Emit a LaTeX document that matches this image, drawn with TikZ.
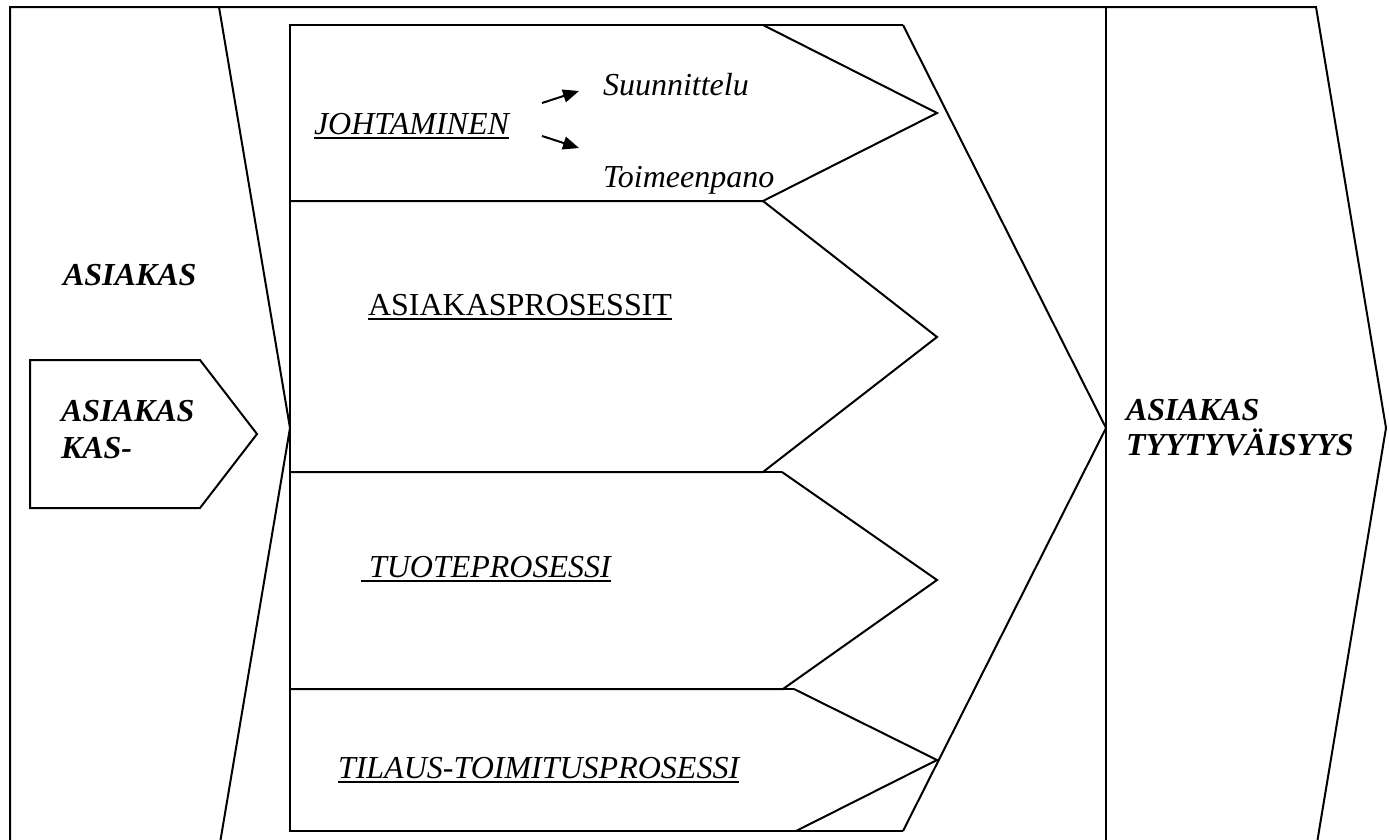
\documentclass[tikz,border=0pt]{standalone}
\usepackage{fontspec}
\setmainfont{Liberation Serif}
\usetikzlibrary{arrows.meta}
% underline drawn a little below the baseline, as wide as the text
\newsavebox\ulbox
\newcommand{\ulined}[1]{\sbox\ulbox{#1}\rlap{\rule[-4.6pt]{\wd\ulbox}{1.8pt}}\usebox\ulbox}
\begin{document}
\begin{tikzpicture}[x=1pt,y=-1pt,line width=2pt,line join=miter,
  lbl/.style={inner sep=0pt,anchor=base west,font=\fontsize{32}{36}\selectfont},
  lblit/.style={lbl,font=\fontsize{32}{36}\selectfont\itshape},
  lblbf/.style={lbl,font=\fontsize{32}{36}\selectfont\bfseries\itshape},
  arr/.style={-{Triangle[length=16pt,width=13pt]},line width=2pt}]
\useasboundingbox (0,0) rectangle (1389,839);
\clip (0,0) rectangle (1389,839);

% outer frame with the right-pointing chevron end
\draw (10,849) -- (10,7) -- (1316,7) -- (1386,428) -- (1316,849);
% left wedge and the divider before the satisfaction column
\draw (219,7) -- (290,428) -- (219,849);
\draw (1106,7) -- (1106,849);

% small arrow box on the left
\draw (30,360) -- (200,360) -- (257,434) -- (200,508) -- (30,508) -- cycle;

% middle column frame and the big chevron
\draw (903,25) -- (290,25) -- (290,831) -- (903,831);
\draw (903,25) -- (1106,428) -- (903,831);

% process rows
\draw (763,25) -- (937,113) -- (763,201) -- (290,201);
\draw (763,201) -- (937,337) -- (763,472) -- (290,472);
\draw (782,472) -- (937,580) -- (783,689) -- (290,689);
\draw (763,472) -- (782,472);
\draw (794,689) -- (937,760) -- (796,831);
\draw (783,689) -- (794,689);

% labels
\node[lblbf] (asiakas) at (62,285) {ASIAKAS};
\node[lblbf] (box1) at (60,421) {ASIAKAS};
\node[lblbf] (box2) at (60,458) {KAS-};

\node[lblit] (johta) at (313,134) {\ulined{JOHTAMINEN}};
\node[lblit] (suunn) at (602,95) {Suunnittelu};
\node[lblit] (toim) at (602,187) {Toimeenpano};
\node[lbl] (asproc) at (367,315) {\ulined{ASIAKASPROSESSIT}};
\node[lblit] (tuote) at (360,577) {\ulined{\ TUOTEPROSESSI}};
\node[lblit] (tilaus) at (337,778) {\ulined{TILAUS-TOIMITUSPROSESSI}};

\node[lblbf] (tyyt1) at (1125,420) {ASIAKAS};
\node[lblbf] (tyyt2) at (1125,455) {TYYTYVÄISYYS};

% small arrows from JOHTAMINEN towards its two parts
\coordinate (a1s) at (542,103);
\coordinate (a1e) at (579,91);
\coordinate (a2s) at (542,136);
\coordinate (a2e) at (579,148);
\draw[arr] (a1s) -- (a1e);
\draw[arr] (a2s) -- (a2e);
\end{tikzpicture}
\end{document}
